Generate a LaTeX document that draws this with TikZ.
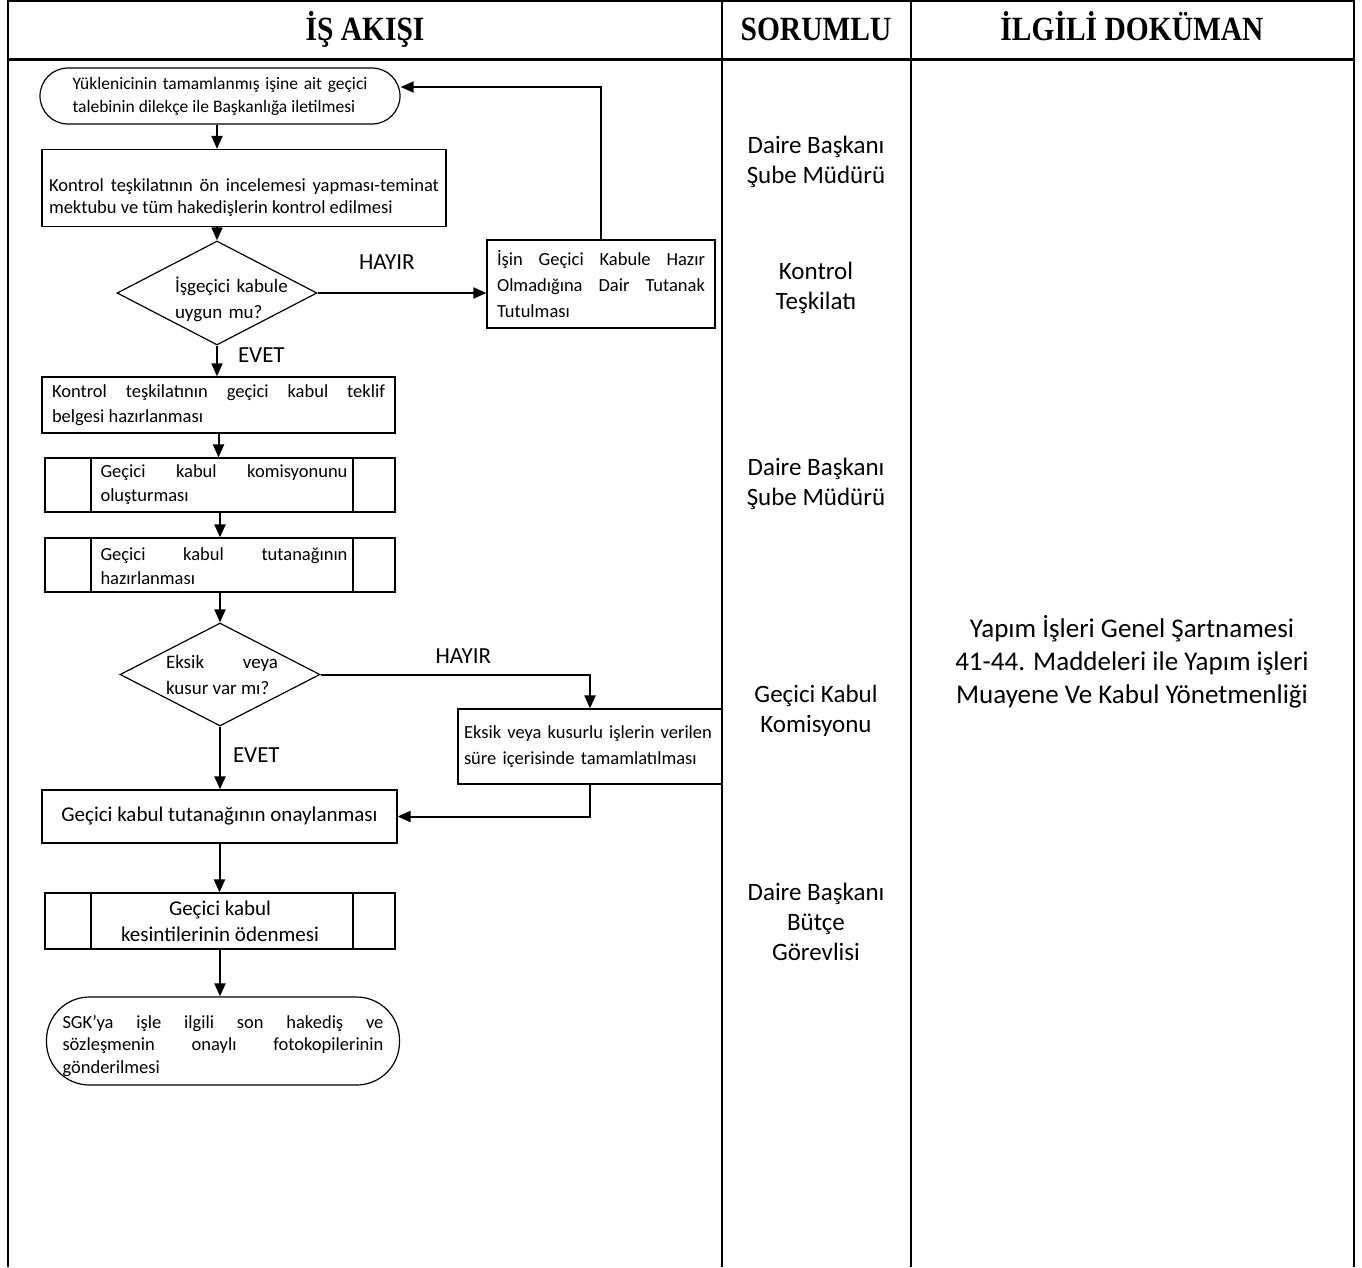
\documentclass[tikz,border=0pt]{standalone}
\usepackage{fontspec}
\setmainfont{Carlito}
\newfontfamily\headfont{Liberation Serif}
\usetikzlibrary{arrows.meta,shapes.geometric}
\hyphenpenalty=10000
\exhyphenpenalty=10000

\tikzset{
  tbl/.style={line width=1.8pt},
  head/.style={font=\headfont\bfseries\fontsize{29.5}{33}\selectfont,
    inner sep=0pt,anchor=base},
  box/.style={draw,line width=1.2pt,inner sep=0pt,
    font=\fontsize{18.5}{24}\selectfont},
  txt/.style={inner sep=0pt,font=\fontsize{18.5}{24}\selectfont},
  subproc/.style={box,path picture={
    \draw[line width=1.2pt]
      ([xshift=46pt]path picture bounding box.north west) --
      ([xshift=46pt]path picture bounding box.south west)
      ([xshift=-42pt]path picture bounding box.north east) --
      ([xshift=-42pt]path picture bounding box.south east);}},
  decision/.style={draw,diamond,line width=1.2pt,inner sep=0pt},
  dtext/.style={font=\fontsize{19}{26}\selectfont,inner sep=0pt},
  yesno/.style={font=\fontsize{23}{26}\selectfont,inner sep=0pt},
  who/.style={font=\fontsize{25}{30}\selectfont,align=center,inner sep=0pt},
  arr/.style={line width=2pt,-{Triangle[length=13pt,width=11pt]}}
}
\newcommand{\hbig}[1]{\scalebox{1}[1.15]{#1}}

\begin{document}
\begin{tikzpicture}[x=1pt,y=-1pt]
  \useasboundingbox (0,0) rectangle (1362,1267);

  % Table
  \draw[tbl] (8,1267) -- (8,1) -- (1354,1) -- (1354,1267);
  \draw[tbl] (722,1) -- (722,1267);
  \draw[tbl] (911,1) -- (911,1267);
  \draw[line width=3pt] (8,59) -- (1354,59);
  \node[head] (h1) at (365,40) {\hbig{İŞ AKIŞI}};
  \node[head] (h2) at (816,40) {\hbig{SORUMLU}};
  \node[head] (h3) at (1132,40) {\hbig{İLGİLİ DOKÜMAN}};

  % Flow
  \node[box,rounded corners=28pt,minimum width=360pt,minimum height=56pt,
    text width=295pt,align=justify,font=\fontsize{17.5}{23}\selectfont]
    (start) at (220,96)
    {Yüklenicinin tamamlanmış işine ait geçici\linebreak
     talebinin dilekçe ile Başkanlığa iletilmesi};
  \node[box,minimum width=404pt,minimum height=77pt] (ctrl) at (244,188) {};
  \node[txt,text width=390pt,align=justify,font=\fontsize{18.5}{22}\selectfont]
    (ctrlt) at (244,198)
    {Kontrol teşkilatının ön incelemesi yapması-teminat\linebreak
     mektubu ve tüm hakedişlerin kontrol edilmesi};
  \node[decision,minimum width=200pt,minimum height=104pt] (q1) at (217,293) {};
  \node[dtext,text width=124pt,align=left] (q1t) at (237,299)
    {İşgeçici kabule\\uygun mu?};
  \node[box,minimum width=228pt,minimum height=88pt,text width=208pt,
    align=justify,font=\fontsize{18.5}{26}\selectfont] (tut) at (601,284)
    {İşin Geçici Kabule Hazır\linebreak
     Olmadığına Dair Tutanak\linebreak Tutulması};
  \node[box,minimum width=353pt,minimum height=56pt,text width=333pt,
    align=justify,font=\fontsize{18.5}{25}\selectfont] (teklif) at (218.5,405)
    {Kontrol teşkilatının geçici kabul teklif\linebreak belgesi hazırlanması};
  \node[subproc,minimum width=350pt,minimum height=54pt] (komis) at (220,485) {};
  \node[txt,text width=247pt,align=justify] (komist) at (224,485)
    {Geçici kabul komisyonunu\linebreak oluşturması};
  \node[subproc,minimum width=350pt,minimum height=54pt] (tutan) at (220,565) {};
  \node[txt,text width=247pt,align=justify] (tutant) at (224,566)
    {Geçici kabul tutanağının\linebreak hazırlanması};
  \node[decision,minimum width=200pt,minimum height=103pt] (q2) at (220,674.5) {};
  \node[dtext,text width=112pt,align=justify] (q2t) at (222,674.5)
    {Eksik veya\linebreak kusur var mı?};
  \node[box,minimum width=264pt,minimum height=75pt,text width=252pt,
    align=left,font=\fontsize{18.5}{26}\selectfont] (eksik) at (590,746.5)
    {Eksik veya kusurlu işlerin verilen\\süre içerisinde tamamlatılması};
  \node[box,minimum width=355pt,minimum height=53pt,
    font=\fontsize{21}{26}\selectfont] (onay) at (219.5,816.5)
    {Geçici kabul tutanağının onaylanması};
  \node[subproc,minimum width=350pt,minimum height=56pt,align=center,
    font=\fontsize{21}{26}\selectfont] (kesinti) at (220,921)
    {Geçici kabul\\kesintilerinin ödenmesi};
  \node[box,rounded corners=43pt,minimum width=353pt,minimum height=88pt]
    (end) at (223,1041) {};
  \node[txt,text width=321pt,align=justify,font=\fontsize{18.5}{22.5}\selectfont]
    (endt) at (223,1046)
    {SGK’ya işle ilgili son hakediş ve\linebreak
     sözleşmenin onaylı fotokopilerinin\linebreak gönderilmesi};

  % Connectors
  \draw[arr] (start.south -| q1.north) -- (q1.north |- ctrl.north);
  \draw[arr] (ctrl.south -| q1.north) -- (q1.north);
  \draw[arr] (q1.east) -- (q1.east -| tut.west)
    node[yesno,pos=0.41,yshift=31pt] (hay1) {HAYIR};
  \coordinate (fb) at (601,87);
  \draw[arr] (tut.north) -- (fb) -- (fb -| start.east);
  \draw[arr] (q1.south) -- (q1.south |- teklif.north)
    node[yesno,pos=0.3,anchor=west,xshift=20pt] (evet1) {EVET};
  \draw[arr] (teklif.south) -- (teklif.south |- komis.north);
  \draw[arr] (komis.south) -- (tutan.north);
  \draw[arr] (tutan.south) -- (q2.north);
  \draw[arr] (q2.east) -- node[yesno,pos=0.53,yshift=18pt] (hay2) {HAYIR}
    (q2.east -| eksik.north) -- (eksik.north);
  \draw[arr] (eksik.south) -- (eksik.south |- onay.east) -- (onay.east);
  \draw[arr] (q2.south) -- (q2.south |- onay.north)
    node[yesno,pos=0.45,anchor=west,xshift=12pt] (evet2) {EVET};
  \draw[arr] (onay.south) -- (onay.south |- kesinti.north);
  \draw[arr] (kesinti.south) -- (kesinti.south |- end.north);

  % Responsible
  \node[who] (r1) at (816,162) {Daire Başkanı\\Şube Müdürü};
  \node[who] (r2) at (816,288) {Kontrol\\Teşkilatı};
  \node[who] (r3) at (816,484) {Daire Başkanı\\Şube Müdürü};
  \node[who] (r4) at (816,711) {Geçici Kabul\\Komisyonu};
  \node[who] (r5) at (816,922) {Daire Başkanı\\Bütçe\\Görevlisi};

  % Document
  \node[who,font=\fontsize{27}{33}\selectfont] (doc) at (1132,662)
    {Yapım İşleri Genel Şartnamesi\\41-44. Maddeleri ile Yapım işleri\\
     Muayene Ve Kabul Yönetmenliği};

\end{tikzpicture}
\end{document}
